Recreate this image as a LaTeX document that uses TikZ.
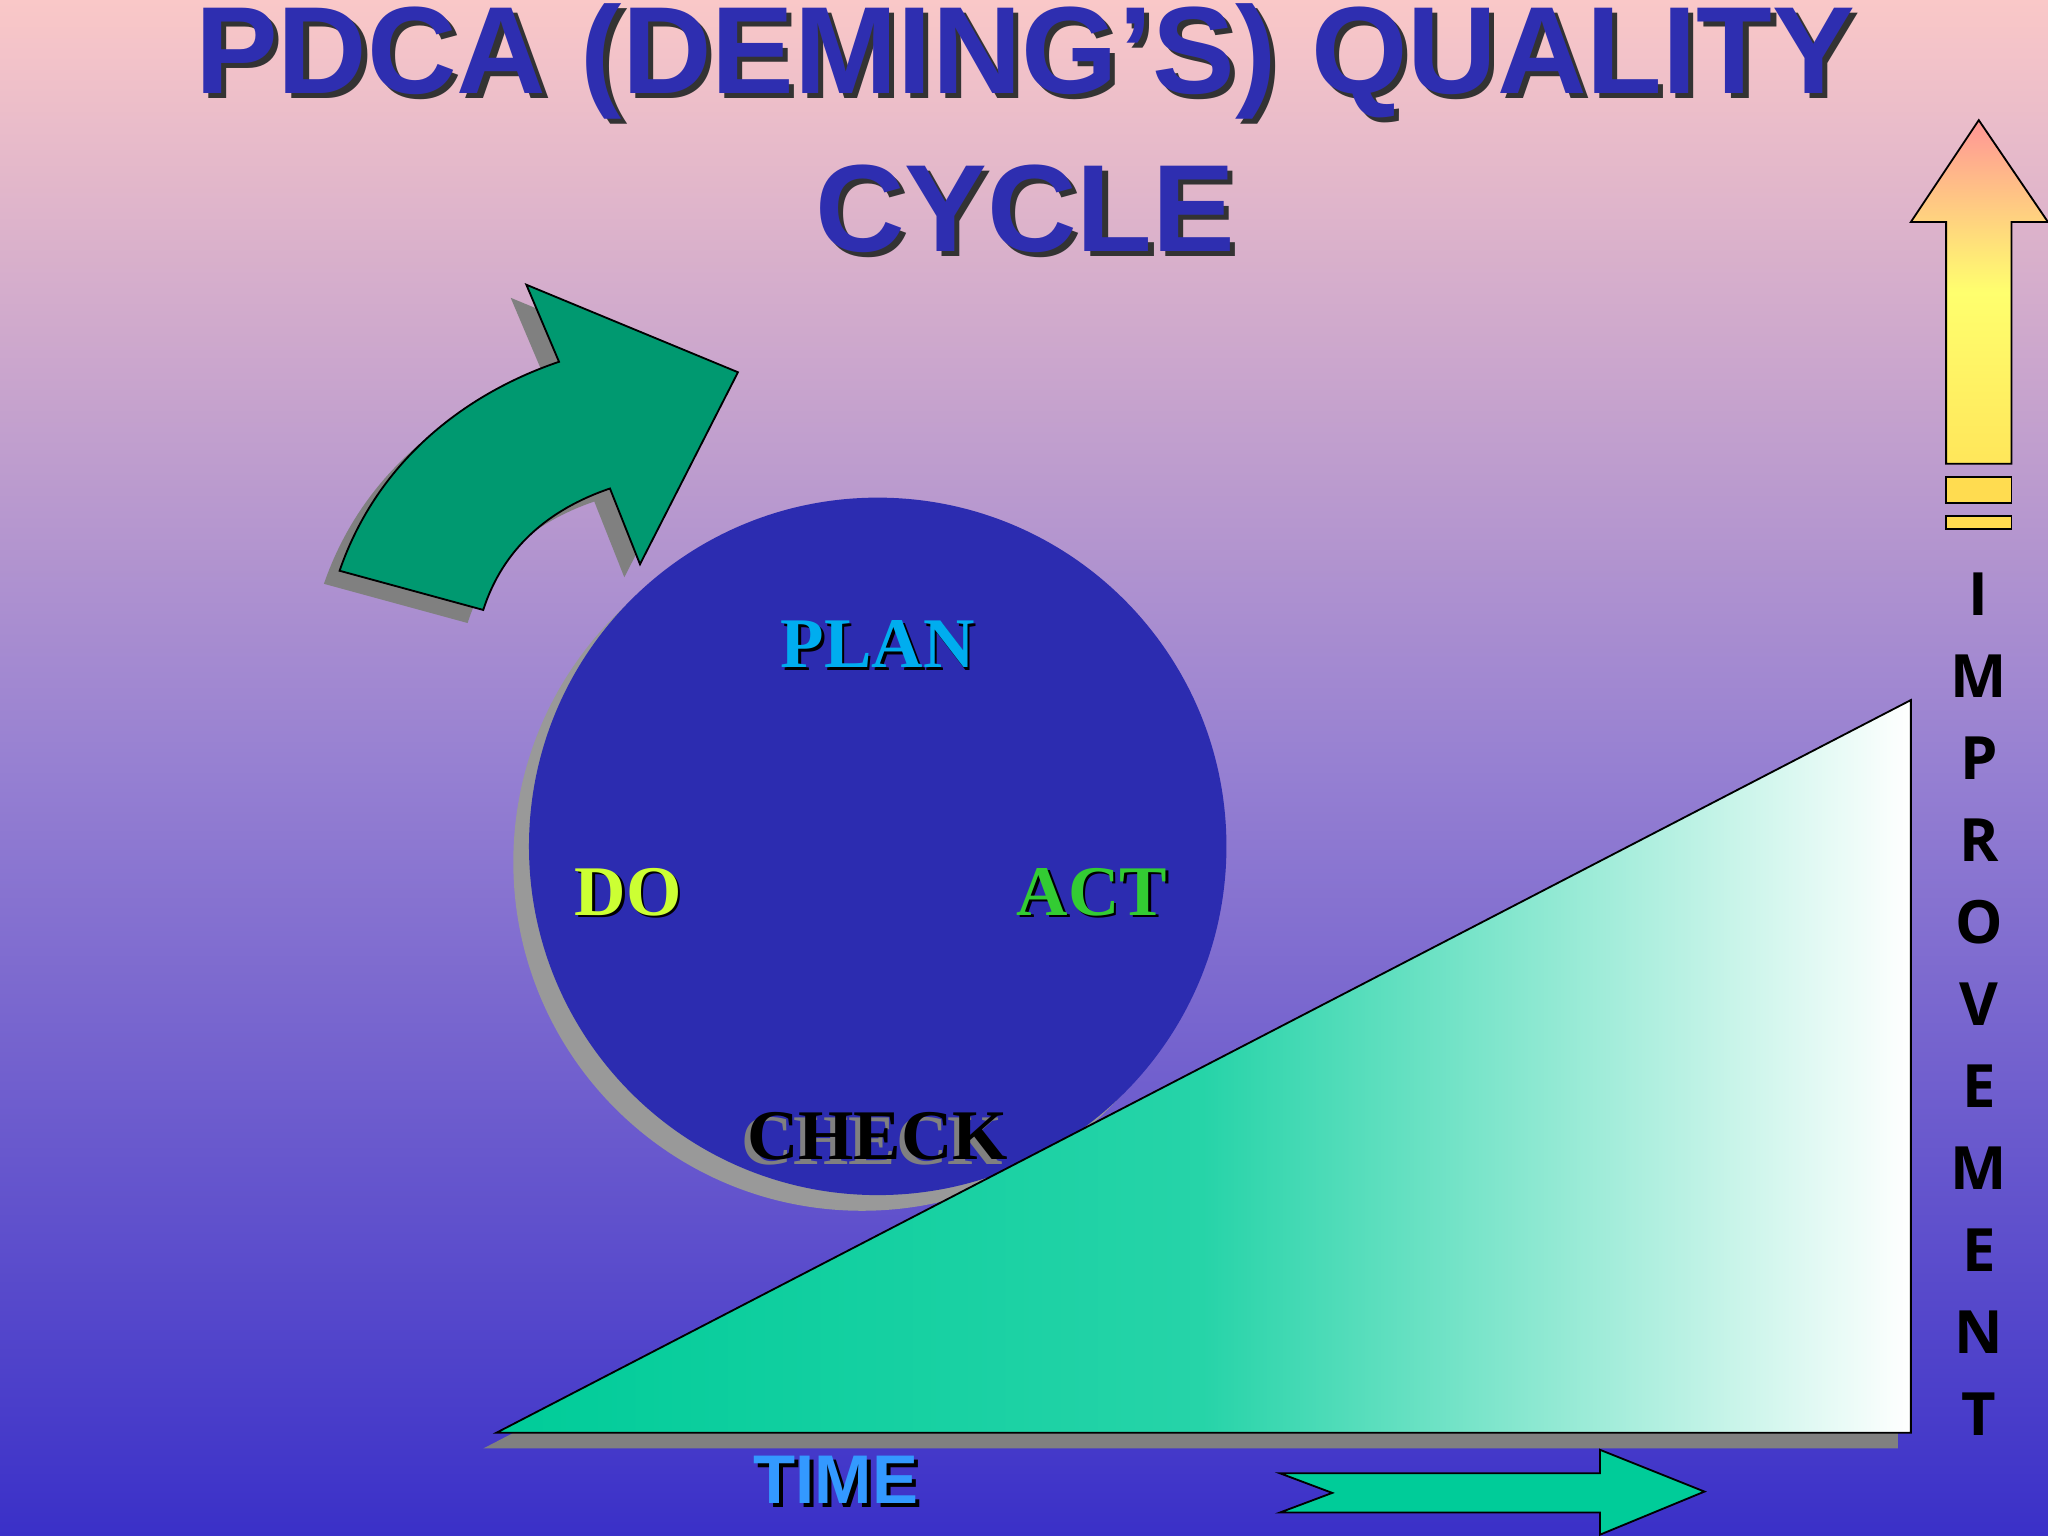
\documentclass[tikz,border=0pt]{standalone}
\usepackage{fontspec}
\setmainfont{Liberation Serif}
\setsansfont{Liberation Sans}
\newfontfamily\opensans{Open Sans}
\begin{document}
\begin{tikzpicture}[x=0.01cm,y=-0.01cm]
\definecolor{ttl}{HTML}{2E2EB0}
\definecolor{circ}{HTML}{2C2CB0}
\definecolor{grn}{HTML}{009970}
\definecolor{tri}{HTML}{00CC99}
\tikzset{
 title/.style={font=\sffamily\bfseries\fontsize{27}{30}\selectfont, text=ttl},
 tshadow/.style={font=\sffamily\bfseries\fontsize{27}{30}\selectfont, text=black!80},
 lab/.style={font=\rmfamily\bfseries\fontsize{15.5}{18}\selectfont},
 letter/.style={font=\opensans\bfseries\fontsize{13}{14}\selectfont, text=black}
}
\useasboundingbox (0,0) rectangle (1568,1176);
\shade[top color={rgb,255:red,250;green,200;blue,200}, bottom color={rgb,255:red,58;green,48;blue,200}, middle color={rgb,255:red,150;green,128;blue,210}] (0,0) rectangle (1568,1176);
% title
\node[tshadow] at (789,51) {PDCA (DEMING’S) QUALITY};
\node[title] (t1) at (785,47) {PDCA (DEMING’S) QUALITY};
\node[tshadow] at (789,164) {CYCLE};
\node[title] (t2) at (785,160) {CYCLE};
% curved arrow shadow + arrow
\begin{scope}[shift={(-12,10)}]
\fill[gray] (260,437) .. controls (290,350) and (360,300) .. (428,277) -- (403,218) -- (565,285) -- (490,432) -- (467,374) .. controls (420,390) and (385,420) .. (370,467) -- cycle;
\end{scope}
\draw[fill=grn, draw=black] (260,437) .. controls (290,350) and (360,300) .. (428,277) -- (403,218) -- (565,285) -- (490,432) -- (467,374) .. controls (420,390) and (385,420) .. (370,467) -- cycle;
% circle
\fill[gray!80] (660,660) circle (267);
\fill[circ] (672,648) circle (267);
% triangle
\fill[gray] (370,1109) -- (1453,548) -- (1453,1109) -- cycle;
\shade[shading angle=120, left color=tri, right color=white, middle color=tri!85!white] (380,1097) -- (1463,536) -- (1463,1097) -- cycle;
\draw[black] (380,1097) -- (1463,536) -- (1463,1097) -- cycle;
% labels
\node[lab, text=black] at (674,495) {PLAN};
\node[lab, text=cyan] (plan) at (672,493) {PLAN};
\node[lab, text=black] at (483,685) {DO};
\node[lab, text={rgb,255:red,204;green,255;blue,51}] (do) at (481,683) {DO};
\node[lab, text=black] at (838,685) {ACT};
\node[lab, text={rgb,255:red,51;green,204;blue,51}] (act) at (836,683) {ACT};
\node[lab, text=gray] at (668,874) {CHECK};
\node[lab, text=black] (check) at (672,870) {CHECK};
% TIME
\node[font=\sffamily\bfseries\fontsize{15}{18}\selectfont, text=black] at (643,1136) {TIME};
\node[font=\sffamily\bfseries\fontsize{15}{18}\selectfont, text={rgb,255:red,51;green,153;blue,255}] (time) at (640,1133) {TIME};
% bottom arrow
\draw[fill=tri, draw=black] (980,1128) -- (1225,1128) -- (1225,1110) -- (1305,1142) -- (1225,1175) -- (1225,1158) -- (980,1158) -- (1020,1143) -- cycle;
% up arrow
\shade[top color={rgb,255:red,255;green,150;blue,150}, bottom color={rgb,255:red,255;green,230;blue,90}, middle color={rgb,255:red,255;green,255;blue,110}] (1490,355) -- (1490,170) -- (1463,170) -- (1515,92) -- (1568,170) -- (1540,170) -- (1540,355) -- cycle;
\draw[black] (1490,355) -- (1490,170) -- (1463,170) -- (1515,92) -- (1568,170) -- (1540,170) -- (1540,355) -- cycle;
\draw[fill={rgb,255:red,255;green,220;blue,80}] (1490,365) rectangle (1540,385);
\draw[fill={rgb,255:red,255;green,220;blue,80}] (1490,395) rectangle (1540,405);
% IMPROVEMENT
\foreach \l [count=\i] in {I,M,P,R,O,V,E,M,E,N,T}
  \node[letter] (L\i) at (1515,{455+62.8*(\i-1)}) {\l};
\end{tikzpicture}
\end{document}
